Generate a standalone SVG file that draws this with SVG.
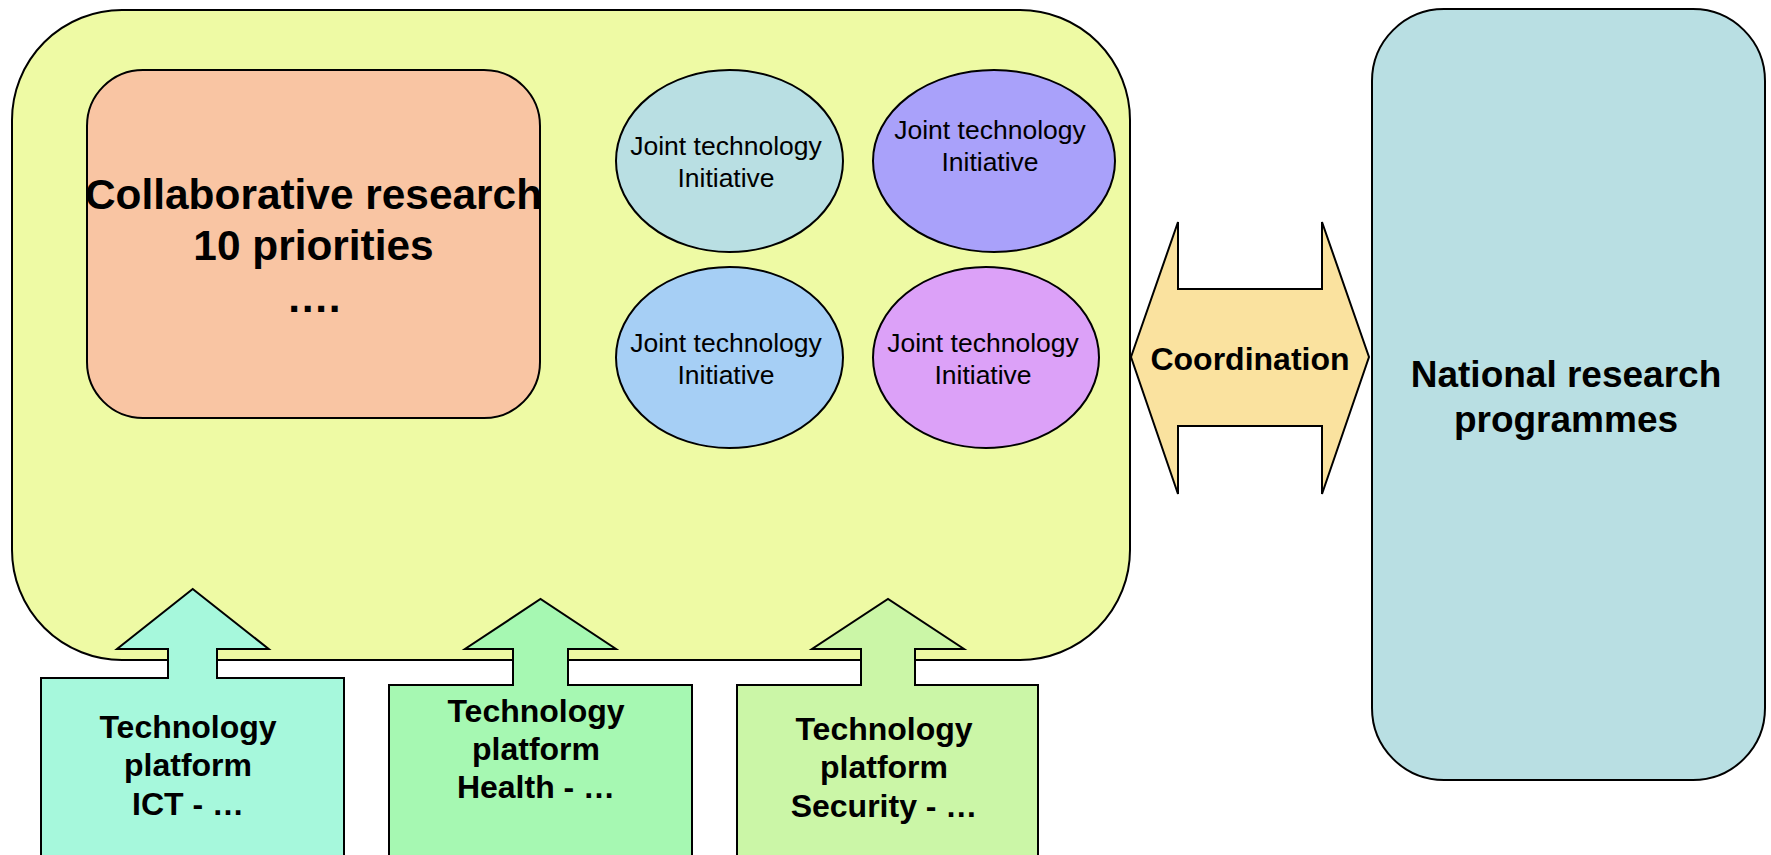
<svg xmlns="http://www.w3.org/2000/svg" width="1771" height="855" viewBox="0 0 1771 855">
<style>
.s{stroke:#000;stroke-width:2}
.t{font-family:"Liberation Sans",Arial,sans-serif;fill:#000;text-anchor:middle}
.b{font-weight:bold}
.jt{font-size:26.5px}
.tp{font-size:32px;font-weight:bold}
</style>
<rect width="1771" height="855" fill="#fff"/>
<g id="eu-framework">
<rect class="s" x="12" y="10" width="1118" height="650" rx="110" ry="110" fill="#EEFAA4"/>
</g>
<g id="collaborative">
<rect class="s" x="87" y="70" width="453" height="348" rx="56" ry="56" fill="#F9C5A3"/>
<text class="t b" font-size="42.4" x="313.5" y="209">Collaborative research</text>
<text class="t b" font-size="42.4" x="313.5" y="260">10 priorities</text>
<text class="t b" font-size="42.4" x="313.5" y="312">….</text>
</g>
<g id="jti1">
<ellipse class="s" cx="729.5" cy="161" rx="113.5" ry="91" fill="#B9DFE3"/>
<text class="t jt" x="726" y="155">Joint technology</text>
<text class="t jt" x="726" y="187">Initiative</text>
</g>
<g id="jti2">
<ellipse class="s" cx="994" cy="161" rx="121" ry="91" fill="#A9A1FA"/>
<text class="t jt" x="990" y="139">Joint technology</text>
<text class="t jt" x="990" y="171">Initiative</text>
</g>
<g id="jti3">
<ellipse class="s" cx="729.5" cy="357.5" rx="113.5" ry="90.5" fill="#A6CFF5"/>
<text class="t jt" x="726" y="352">Joint technology</text>
<text class="t jt" x="726" y="384">Initiative</text>
</g>
<g id="jti4">
<ellipse class="s" cx="986" cy="357.5" rx="113" ry="90.5" fill="#DCA1F8"/>
<text class="t jt" x="983" y="352">Joint technology</text>
<text class="t jt" x="983" y="384">Initiative</text>
</g>
<g id="national">
<rect class="s" x="1372" y="9" width="393" height="771" rx="72" ry="72" fill="#B9DFE3"/>
<text class="t b" font-size="37" x="1566" y="387">National research</text>
<text class="t b" font-size="37" x="1566" y="432">programmes</text>
</g>
<g id="connectors">
<g id="coordination">
<path class="s" d="M1131,357 L1178,222 V289 H1322 V222 L1369,357 L1322,494 V426 H1178 V494 Z" fill="#FAE29F"/>
<text class="t b" font-size="32" x="1250" y="370">Coordination</text>
</g>
</g>
<g id="tp-ict">
<path class="s" d="M41,870 V678 H168 V649 H117 L192.7,589 L268.7,649 H217 V678 H344 V870 Z" fill="#A6F8DC"/>
<text class="t tp" x="188" y="738">Technology</text>
<text class="t tp" x="188" y="776">platform</text>
<text class="t tp" x="188" y="815">ICT - …</text>
</g>
<g id="tp-health">
<path class="s" d="M389,870 V685 H513 V649 H465 L540.5,599 L616,649 H568 V685 H692 V870 Z" fill="#A6F8B2"/>
<text class="t tp" x="536" y="722">Technology</text>
<text class="t tp" x="536" y="760">platform</text>
<text class="t tp" x="536" y="798">Health - …</text>
</g>
<g id="tp-security">
<path class="s" d="M737,870 V685 H861 V649 H812 L888,599 L964,649 H915 V685 H1038 V870 Z" fill="#CBF6A7"/>
<text class="t tp" x="884" y="740">Technology</text>
<text class="t tp" x="884" y="778">platform</text>
<text class="t tp" x="884" y="817">Security - …</text>
</g>
</svg>
